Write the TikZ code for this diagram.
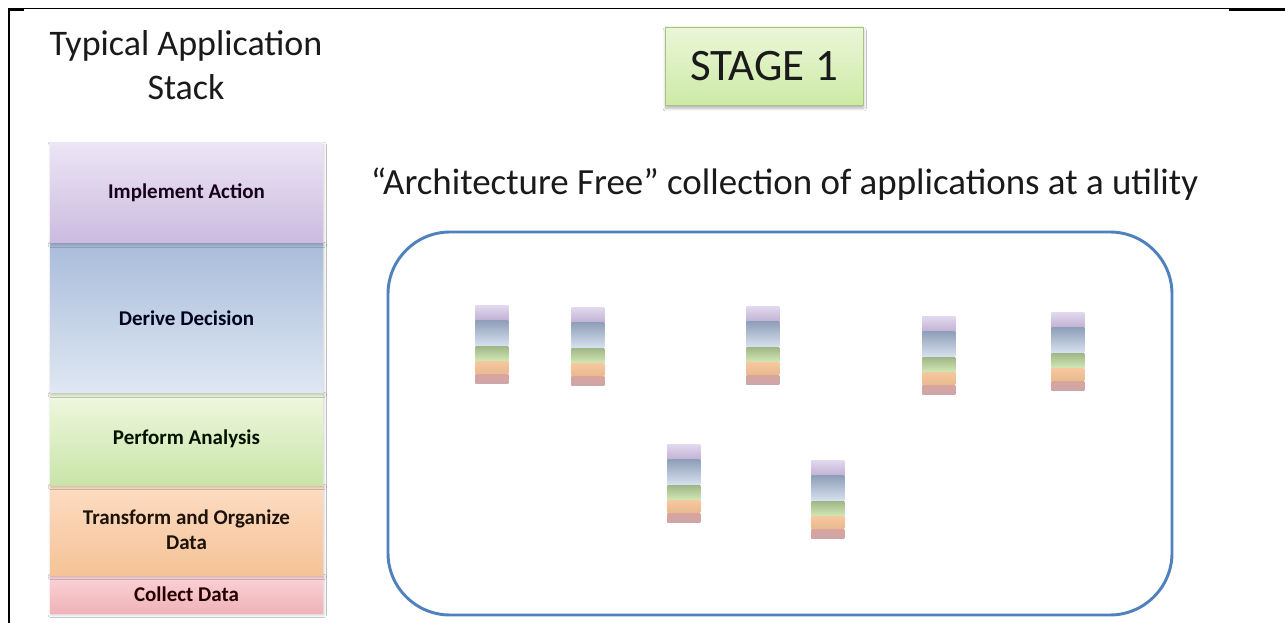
\documentclass[tikz,border=0pt]{standalone}
\usepackage{fontspec}
\setmainfont{Carlito}
\usetikzlibrary{shadows.blur}

% layer colours (top / bottom of each gradient)
\definecolor{actT}{HTML}{ECE5F5}
\definecolor{actB}{HTML}{CBBBDF}
\definecolor{decT}{HTML}{A9BCDA}
\definecolor{decB}{HTML}{DFE8F3}
\definecolor{anaT}{HTML}{F0F8E0}
\definecolor{anaB}{HTML}{C9E4A8}
\definecolor{traT}{HTML}{FDDCC3}
\definecolor{traB}{HTML}{F5C397}
\definecolor{colT}{HTML}{FAD3D7}
\definecolor{colB}{HTML}{F0B3B9}
\definecolor{stageT}{HTML}{EBF6D9}
\definecolor{stageB}{HTML}{CDEAA5}
\definecolor{stageLine}{HTML}{A8C27F}
\definecolor{utilBlue}{HTML}{4F81BD}
\definecolor{ink}{HTML}{1A1A1A}

% a small copy of the application stack: name, left x, top y
\newcommand\appstack[3]{%
  \node[mini, minimum height=11.25pt, top color=actT!70!actB, bottom color=actB!95!black, anchor=north west] (#1-act) at (#2,#3) {};
  \node[mini, minimum height=18.75pt, top color=decT!85!black, bottom color=decB!85!decT, anchor=north west] (#1-dec) at (#1-act.south west) {};
  \node[mini, minimum height=11.25pt, top color=anaB!80!black, bottom color=anaB!75!anaT, anchor=north west] (#1-ana) at (#1-dec.south west) {};
  \node[mini, minimum height=9pt, top color=traB!85!traT, bottom color=traB!95!black, anchor=north west] (#1-tra) at (#1-ana.south west) {};
  \node[mini, minimum height=6.75pt, top color=colB!70!traB!90!black, bottom color=colB!80!black!80, anchor=north west] (#1-col) at (#1-tra.south west) {};
}

\begin{document}
\begin{tikzpicture}[x=0.75pt, y=-0.75pt,
  layer/.style={rectangle, inner sep=0pt, minimum width=204.75pt,
    font=\fontsize{15.75}{19}\selectfont\bfseries, align=center,
    blur shadow={shadow xshift=0.6pt, shadow yshift=-1.4pt, shadow opacity=22, shadow blur steps=8, shadow blur radius=2pt}},
  mini/.style={rectangle, inner sep=0pt, minimum width=24.75pt, draw=none},
  heading/.style={font=\fontsize{27}{33}\selectfont, text=ink, align=center, inner sep=0pt},
  frameline/.style={draw=black, line cap=butt}
]
\useasboundingbox (0,0) rectangle (1285,623);
\fill[white] (0,0) rectangle (1285,623);

% page frame
\coordinate (fTL) at (9,8.5);
\coordinate (fTR) at (1230,8.5);
\coordinate (fBL) at (9,623);
\coordinate (fEnd) at (1285,9.5);
\coordinate (fTRs) at (1229,9.5);
\coordinate (fTLe) at (24,9.5);
\draw[frameline, line width=1.7pt] (fBL) -- (fTL |- 0,8);
\draw[frameline, line width=1pt] (fTL) -- (fTR);
\draw[frameline, line width=2pt] (fTRs) -- (fEnd);
\draw[frameline, line width=2pt] (8,9.5) coordinate (fTLs) -- (fTLe);

% title of the stack
\node[heading] (title) at (186,65) {Typical Application\\Stack};

% the application stack, drawn from the bottom up
\node[layer, minimum height=28.5pt, top color=colT, bottom color=colB, text=black!85!red] (collect) at (186.5,594) {Collect Data};
\node[layer, minimum height=67.5pt, top color=traT, bottom color=traB, text=black!85!brown] (transform) at (186.5,530) {Transform and Organize\\Data};
\node[layer, minimum height=69pt, top color=anaT, bottom color=anaB, text=black!85!green!50!black] (analysis) at (186.5,439) {Perform Analysis};
\node[layer, minimum height=112.5pt, top color=decT, bottom color=decB, text=black!80!blue!60!black] (decision) at (186.5,318) {Derive Decision};
\node[layer, minimum height=75pt, top color=actT, bottom color=actB, text=black!80!violet] (action) at (186.5,193) {Implement Action};

% stage label
\node[rectangle, draw=stageLine, line width=0.6pt, top color=stageT, bottom color=stageB,
      minimum width=148.5pt, minimum height=58.5pt, inner sep=0pt,
      font=\fontsize{33.75}{40}\selectfont, text=ink,
      blur shadow={shadow xshift=0.5pt, shadow yshift=-2.5pt, shadow opacity=30, shadow blur steps=8, shadow blur radius=2pt}]
  (stage) at (764,66) {STAGE 1};

% caption above the utility
\node[heading, anchor=base, font=\fontsize{27.7}{33}\selectfont] (caption) at (784.5,195) {“Architecture Free” collection of applications at a utility};

% the utility
\node[rectangle, draw=utilBlue, line width=2.2pt, rounded corners=46.5pt,
      minimum width=588pt, minimum height=287.25pt] (utility) at (780,423.5) {};

% applications scattered across the utility
\appstack{appA}{475}{305}
\appstack{appB}{571}{307}
\appstack{appC}{746}{306}
\appstack{appD}{922}{316}
\appstack{appE}{1051}{312}
\appstack{appF}{667}{444}
\appstack{appG}{811}{460}
\end{tikzpicture}
\end{document}
